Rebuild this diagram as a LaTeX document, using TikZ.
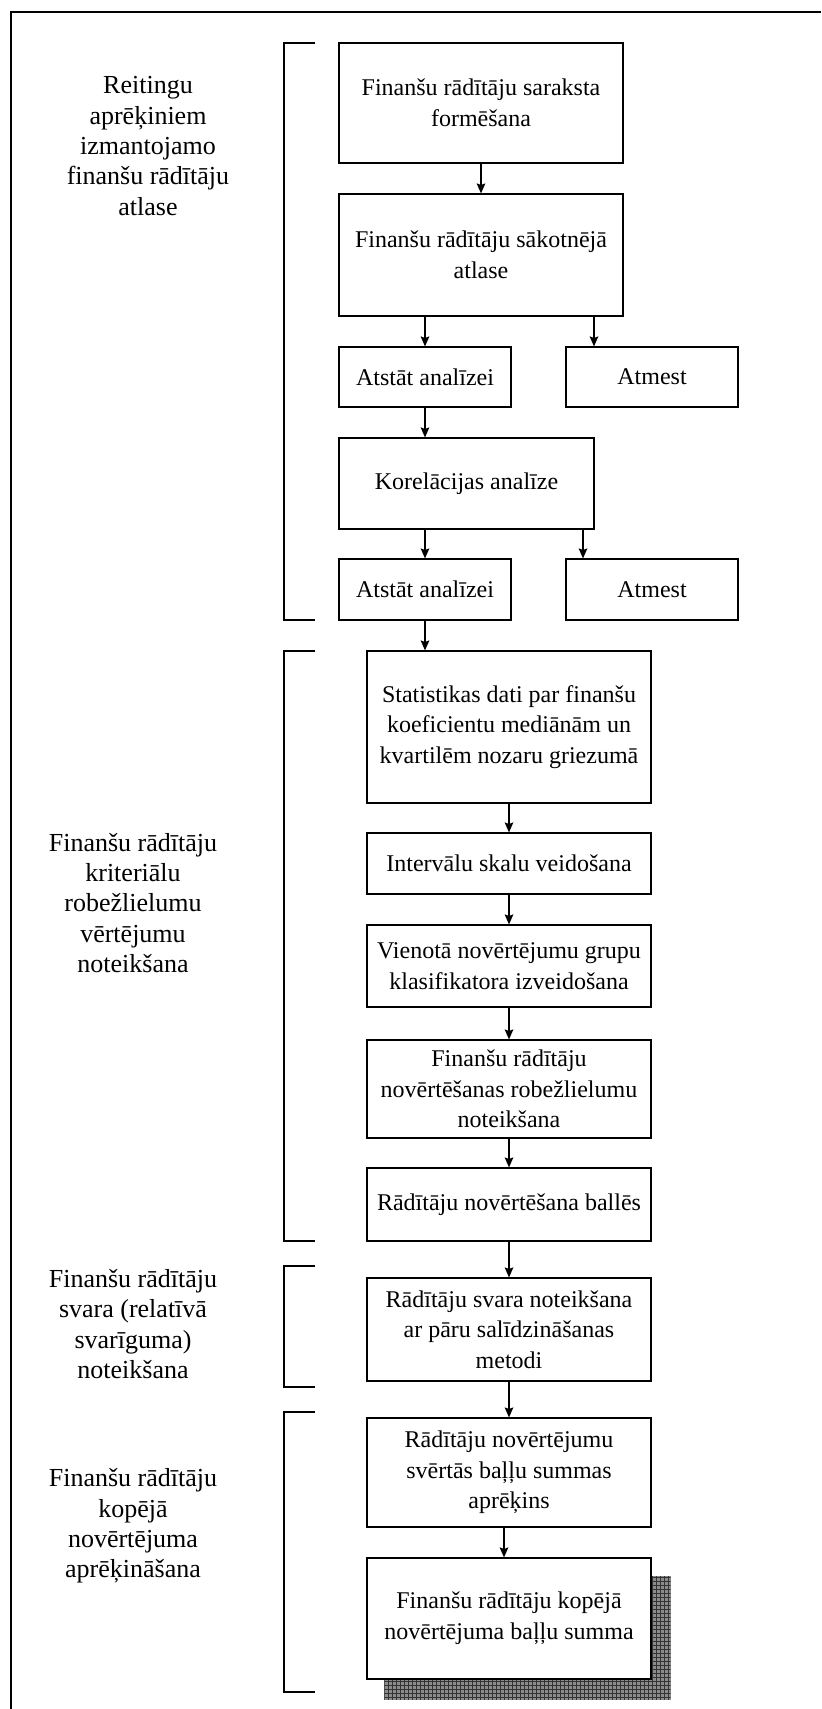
\documentclass[tikz,border=0pt]{standalone}
\usepackage{fontspec}
\setmainfont{Liberation Serif}
\usetikzlibrary{arrows.meta,calc,patterns,backgrounds}

\begin{document}
\begin{tikzpicture}[x=0.75pt,y=-0.75pt,
  every node/.style={font=\fontsize{18pt}{23pt}\selectfont},
  sz/.style 2 args={minimum width=#1*0.75pt, minimum height=#2*0.75pt},
  box/.style={draw, fill=white, line width=0.9pt, align=center, inner sep=2pt},
  lbl/.style={align=center, inner sep=0pt, font=\fontsize{19.5pt}{22.8pt}\selectfont},
  arr/.style={line width=0.9pt, -{Stealth[length=7.5pt,width=6.5pt,inset=1.2pt]}},
  brk/.style={line width=0.9pt},
  frame/.style={line width=2pt}]

\useasboundingbox (0,0) rectangle (821,1709);

% outer frame (top and left edges)
\draw[frame] (11,1709) -- (11,12) -- (821,12);

% stage 1: selection of indicators
\node[box, sz={284}{120}] (A) at (481,103)   {Finanšu rādītāju saraksta\\formēšana};
\node[box, sz={284}{122}] (B) at (481,255)   {Finanšu rādītāju sākotnējā\\atlase};
\node[box, sz={172}{60}]  (C) at (425,377)   {Atstāt analīzei};
\node[box, sz={172}{60}]  (D) at (652,377)   {Atmest};
\node[box, sz={255}{91}]  (E) at (466.5,483.5) {Korelācijas analīze};
\node[box, sz={172}{61}]  (F) at (425,589.5) {Atstāt analīzei};
\node[box, sz={172}{61}]  (G) at (652,589.5) {Atmest};

% stage 2..4
\node[box, sz={284}{152}] (H) at (509,727)    {Statistikas dati par finanšu\\koeficientu mediānām un\\kvartilēm nozaru griezumā};
\node[box, sz={284}{61}]  (I) at (509,863.5)  {Intervālu skalu veidošana};
\node[box, sz={284}{82}]  (J) at (509,966)    {Vienotā novērtējumu grupu\\klasifikatora izveidošana};
\node[box, sz={284}{98}]  (K) at (509,1089)   {Finanšu rādītāju\\novērtēšanas robežlielumu\\noteikšana};
\node[box, sz={284}{73}]  (L) at (509,1204.5) {Rādītāju novērtēšana ballēs};
\node[box, sz={284}{103}] (M) at (509,1329.5) {Rādītāju svara noteikšana\\ar pāru salīdzināšanas\\metodi};
\node[box, sz={284}{109}] (N) at (509,1472.5) {Rādītāju novērtējumu\\svērtās baļļu summas\\aprēķins};
\node[box, sz={284}{121}] (O) at (509,1618.5) {Finanšu rādītāju kopējā\\novērtējuma baļļu summa};

% hatched drop shadow of the final box
\begin{scope}[on background layer]
  \fill[black!45] ($(O.north west)+(18,19)$) rectangle ($(O.south east)+(19,20)$);
  \fill[pattern=grid, pattern color=black!80] ($(O.north west)+(18,19)$) rectangle ($(O.south east)+(19,20)$);
\end{scope}

% connectors
\draw[arr] (A.south) -- (B.north);
\draw[arr] (C.north |- B.south) -- (C.north);
\coordinate (bd) at ($(B.south)+(113,0)$);
\draw[arr] (bd) -- (bd |- D.north);
\draw[arr] (C.south) -- (C.south |- E.north);
\draw[arr] (F.north |- E.south) -- (F.north);
\coordinate (eg) at ($(E.south)+(116.5,0)$);
\draw[arr] (eg) -- (eg |- G.north);
\draw[arr] (F.south) -- (F.south |- H.north);
\draw[arr] (H.south) -- (I.north);
\draw[arr] (I.south) -- (J.north);
\draw[arr] (J.south) -- (K.north);
\draw[arr] (K.south) -- (L.north);
\draw[arr] (L.south) -- (M.north);
\draw[arr] (M.south) -- (N.north);
\coordinate (no) at ($(N.south)+(-5,0)$);
\draw[arr] (no) -- (no |- O.north);

% stage brackets
\draw[brk] (315,43)   -- (284,43)   -- (284,620)  -- (315,620);
\draw[brk] (315,651)  -- (284,651)  -- (284,1241) -- (315,1241);
\draw[brk] (315,1266) -- (284,1266) -- (284,1387) -- (315,1387);
\draw[brk] (315,1412) -- (284,1412) -- (284,1692) -- (315,1692);

% stage titles
\node[lbl] (L1) at (148,146)  {Reitingu\\aprēķiniem\\izmantojamo\\finanšu rādītāju\\atlase};
\node[lbl] (L2) at (133,903)  {Finanšu rādītāju\\kriteriālu\\robežlielumu\\vērtējumu\\noteikšana};
\node[lbl] (L3) at (133,1324) {Finanšu rādītāju\\svara (relatīvā\\svarīguma)\\noteikšana};
\node[lbl] (L4) at (133,1526) {Finanšu rādītāju\\kopējā\\novērtējuma\\aprēķināšana};

\end{tikzpicture}
\end{document}
